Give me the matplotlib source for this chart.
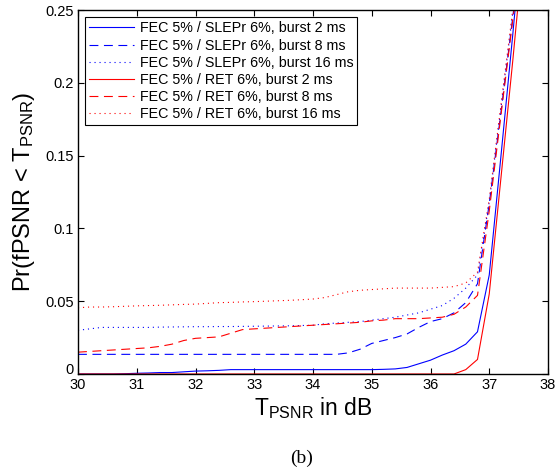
import matplotlib
matplotlib.use("Agg")
import matplotlib.pyplot as plt
import matplotlib.transforms as mtransforms

plt.rcParams['font.family'] = ['Liberation Sans', 'DejaVu Sans']
plt.rcParams['mathtext.default'] = 'regular'

x = [30.0, 30.2, 30.4, 30.6, 30.8, 31.0, 31.2, 31.4, 31.6, 31.8,
     32.0, 32.2, 32.4, 32.6, 32.8, 33.0, 33.2, 33.4, 33.6, 33.8,
     34.0, 34.2, 34.4, 34.6, 34.8, 35.0, 35.2, 35.4, 35.6, 35.8,
     36.0, 36.2, 36.4, 36.6, 36.8, 37.0, 37.2, 37.4, 37.6]

slepr_2 = [0.0, 0.0, 0.0, 0.0, 0.0002, 0.0005, 0.0007, 0.001, 0.001, 0.0015,
           0.002, 0.0022, 0.0025, 0.003, 0.003, 0.003, 0.003, 0.003, 0.003, 0.003,
           0.003, 0.003, 0.003, 0.003, 0.003, 0.003, 0.0032, 0.0035, 0.0045, 0.007,
           0.0095, 0.013, 0.016, 0.0205, 0.029, 0.068, 0.150, 0.233, 0.32]

slepr_8 = [0.0135, 0.0135, 0.0135, 0.0135, 0.0135, 0.0135, 0.0135, 0.0135, 0.0135, 0.0135,
           0.0135, 0.0135, 0.0135, 0.0135, 0.0135, 0.0135, 0.0135, 0.0135, 0.0135, 0.0135,
           0.0135, 0.0135, 0.0135, 0.0145, 0.017, 0.021, 0.023, 0.025, 0.0275, 0.032,
           0.036, 0.038, 0.042, 0.049, 0.062, 0.117, 0.180, 0.245, 0.31]

slepr_16 = [0.030, 0.031, 0.032, 0.032, 0.032, 0.032, 0.032, 0.0322, 0.0323, 0.0324,
            0.0325, 0.0325, 0.0326, 0.0326, 0.0327, 0.0328, 0.0329, 0.033, 0.0331, 0.0333,
            0.0335, 0.0345, 0.035, 0.0355, 0.036, 0.037, 0.038, 0.039, 0.0405, 0.042,
            0.0445, 0.047, 0.052, 0.059, 0.068, 0.118, 0.183, 0.248, 0.313]

ret_2 = [0.0, 0.0, 0.0, 0.0, 0.0, 0.0, 0.0, 0.0, 0.0, 0.0,
         0.0, 0.0, 0.0, 0.0, 0.0, 0.0, 0.0, 0.0, 0.0, 0.0,
         0.0, 0.0, 0.0, 0.0, 0.0, 0.0, 0.0, 0.0, 0.0, 0.0,
         0.0, 0.0, 0.0, 0.003, 0.010, 0.055, 0.135, 0.215, 0.30]

ret_8 = [0.015, 0.0155, 0.016, 0.0165, 0.017, 0.0175, 0.018, 0.019, 0.0205, 0.023,
         0.0245, 0.025, 0.0255, 0.028, 0.0305, 0.031, 0.0315, 0.032, 0.0325, 0.033,
         0.0335, 0.034, 0.0345, 0.035, 0.0355, 0.0365, 0.037, 0.038, 0.038, 0.038,
         0.0385, 0.039, 0.041, 0.046, 0.054, 0.112, 0.178, 0.243, 0.308]

ret_16 = [0.0455, 0.046, 0.046, 0.0462, 0.0465, 0.0468, 0.047, 0.0472, 0.0475, 0.0478,
          0.048, 0.0485, 0.049, 0.0492, 0.0495, 0.0497, 0.050, 0.0503, 0.0506, 0.051,
          0.0515, 0.0525, 0.0545, 0.0565, 0.0575, 0.058, 0.0585, 0.059, 0.059, 0.059,
          0.059, 0.0595, 0.060, 0.0625, 0.070, 0.120, 0.185, 0.250, 0.315]

labels = ["FEC 5% / SLEPr 6%, burst 2 ms",
          "FEC 5% / SLEPr 6%, burst 8 ms",
          "FEC 5% / SLEPr 6%, burst 16 ms",
          "FEC 5% / RET 6%, burst 2 ms",
          "FEC 5% / RET 6%, burst 8 ms",
          "FEC 5% / RET 6%, burst 16 ms"]

xticks = [30, 31, 32, 33, 34, 35, 36, 37, 38]
yticks = [0, 0.05, 0.1, 0.15, 0.2, 0.25]
yticklabels = ["0", "0.05", "0.1", "0.15", "0.2", "0.25"]

fig = plt.figure(figsize=(5.58, 4.71), dpi=100)
ax = fig.add_axes([78/558, 97/471, 470/558, 364/471])

lw = 0.8
dash = (0, (8, 5))
dot = (0, (1, 3.5))
series = [(slepr_2, 'blue', '-'), (slepr_8, 'blue', dash), (slepr_16, 'blue', dot),
          (ret_2, 'red', '-'), (ret_8, 'red', dash), (ret_16, 'red', dot)]
for (ys, c, ls), lab in zip(series, labels):
    ax.plot(x, ys, color=c, linestyle=ls, linewidth=lw, label=lab)

ax.set_xlim(30, 38)
ax.set_ylim(0, 0.25)
ax.set_xticks(xticks)
ax.set_xticklabels([str(t) for t in xticks])
ax.set_yticks(yticks)
ax.set_yticklabels(yticklabels)
ax.tick_params(direction='in', top=True, right=True, length=4, width=0.8,
               labelsize=10.5, pad=3)
for s in ax.spines.values():
    s.set_linewidth(1.0)

# raise the "0" y tick label slightly, as in the reference
zero_lab = ax.get_yticklabels()[0]
zero_lab.set_transform(zero_lab.get_transform() +
                       mtransforms.ScaledTranslation(0, 5/100, fig.dpi_scale_trans))

ax.set_xlabel("T$_{PSNR}$ in dB", fontsize=16.5, labelpad=2)
ax.set_ylabel("Pr(fPSNR < T$_{PSNR}$)", fontsize=17)
ax.yaxis.set_label_coords(-0.087, 0.5)

leg = ax.legend(loc='upper left', fontsize=10.3, handlelength=3.1, labelspacing=0.22,
                borderpad=0.3, handletextpad=0.4, borderaxespad=0.5,
                fancybox=False, framealpha=1, edgecolor='black')
leg.get_frame().set_linewidth(0.8)

fig.text(302/558, 1 - 458/471, "(b)", ha='center', va='center', fontsize=14,
         family='Liberation Serif')

fig.savefig("out.png", dpi=100)
